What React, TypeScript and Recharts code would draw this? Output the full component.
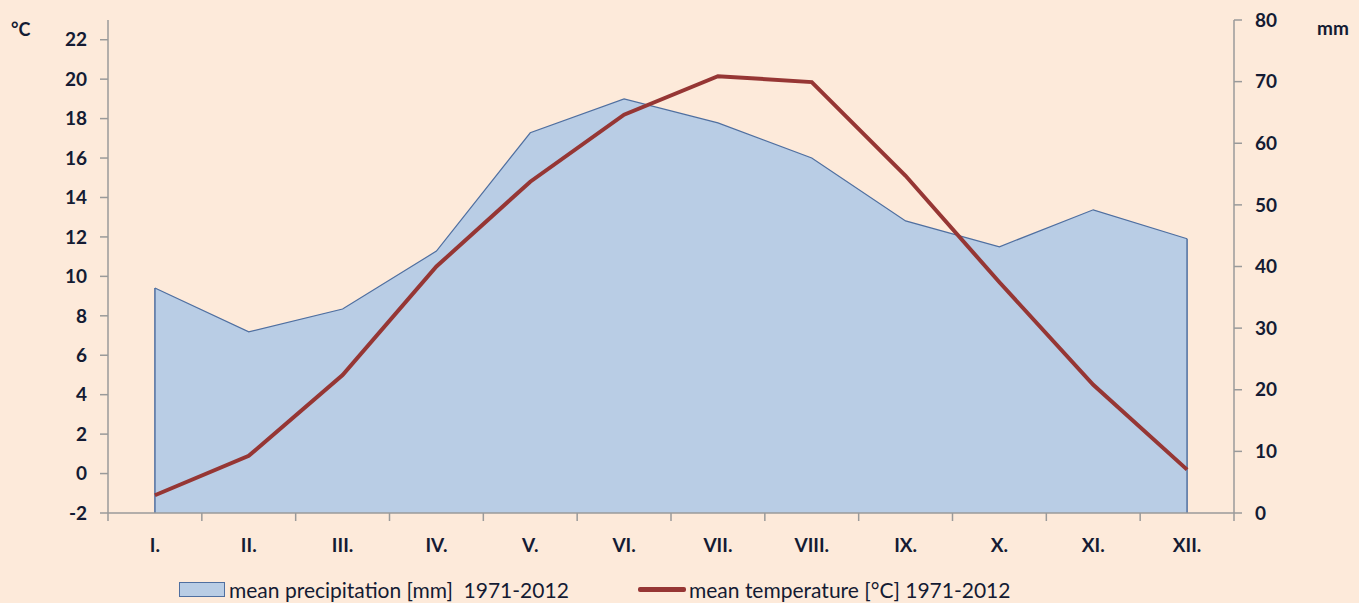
import React from 'react';
import { ComposedChart, Area, Line, XAxis, YAxis, ReferenceLine } from 'recharts';

const months = ['I.', 'II.', 'III.', 'IV.', 'V.', 'VI.', 'VII.', 'VIII.', 'IX.', 'X.', 'XI.', 'XII.'];
const temperature = [-1.1, 0.9, 5.0, 10.5, 14.8, 18.2, 20.15, 19.85, 15.1, 9.7, 4.5, 0.2];
const precipitation = [36.5, 29.4, 33.1, 42.5, 61.7, 67.2, 63.3, 57.6, 47.4, 43.2, 49.2, 44.5];
const tempTicks = [-2, 0, 2, 4, 6, 8, 10, 12, 14, 16, 18, 20, 22];
const precipTicks = [0, 10, 20, 30, 40, 50, 60, 70, 80];

const W = 1359;
const H = 603;
const PLOT_LEFT = 108;
const PLOT_RIGHT = 1234;
const PLOT_BOTTOM = 513;
const BAND = (PLOT_RIGHT - PLOT_LEFT) / months.length;

const BG = '#FDEADA';
const AREA_FILL = '#B9CDE5';
const AREA_STROKE = '#4F6FA0';
const LINE = '#963634';
const AXIS = '#9A9A9A';
const TEXT = '#141B33';
const FONT = 'Lato, "Open Sans", sans-serif';

const data = months.map((m, i) => ({ month: m, temp: temperature[i], precip: precipitation[i] }));

const MonthTick = (props: any) => {
  const { x, payload, index } = props;
  return (
    <g>
      <line x1={x - BAND / 2} x2={x - BAND / 2} y1={PLOT_BOTTOM} y2={PLOT_BOTTOM + 8} stroke={AXIS} strokeWidth={1.5} />
      {index === months.length - 1 && (
        <line x1={x + BAND / 2} x2={x + BAND / 2} y1={PLOT_BOTTOM} y2={PLOT_BOTTOM + 8} stroke={AXIS} strokeWidth={1.5} />
      )}
      <text x={x} y={PLOT_BOTTOM + 39} textAnchor="middle" fill={TEXT} fontSize={19} fontWeight={700} fontFamily={FONT}>
        {payload.value}
      </text>
    </g>
  );
};

export default function App() {
  const tickStyle = { fill: TEXT, fontSize: 19, fontWeight: 700, fontFamily: FONT };
  return (
    <div style={{ position: 'absolute', left: 0, top: 0, width: W, height: H, background: BG, fontFamily: FONT }}>
      <ComposedChart width={W} height={H} data={data} margin={{ top: 20, right: 45, bottom: 40, left: 48 }}>
        <XAxis
          dataKey="month"
          scale="band"
          height={50}
          tick={<MonthTick />}
          tickLine={false}
          axisLine={{ stroke: AXIS, strokeWidth: 1.5 }}
          interval={0}
        />
        <YAxis
          yAxisId="t"
          orientation="left"
          width={60}
          domain={[-2, 23]}
          ticks={tempTicks}
          allowDataOverflow
          tick={tickStyle}
          tickSize={8}
          tickMargin={13}
          tickLine={{ stroke: AXIS, strokeWidth: 1.5 }}
          axisLine={{ stroke: AXIS, strokeWidth: 1.5 }}
        />
        <YAxis
          yAxisId="p"
          orientation="right"
          width={80}
          domain={[0, 80]}
          ticks={precipTicks}
          tick={tickStyle}
          tickSize={8}
          tickMargin={13}
          tickLine={{ stroke: AXIS, strokeWidth: 1.5 }}
          axisLine={{ stroke: AXIS, strokeWidth: 1.5 }}
        />
        <Area
          yAxisId="p"
          type="linear"
          dataKey="precip"
          stroke={AREA_STROKE}
          strokeWidth={1.2}
          fill={AREA_FILL}
          fillOpacity={1}
          isAnimationActive={false}
        />
        <ReferenceLine
          yAxisId="p"
          segment={[{ x: months[0], y: 0 }, { x: months[0], y: precipitation[0] }]}
          stroke={AREA_STROKE}
          strokeWidth={1.5}
        />
        <ReferenceLine
          yAxisId="p"
          segment={[{ x: months[11], y: 0 }, { x: months[11], y: precipitation[11] }]}
          stroke={AREA_STROKE}
          strokeWidth={1.5}
        />
        <Line
          yAxisId="t"
          type="linear"
          dataKey="temp"
          stroke={LINE}
          strokeWidth={4}
          dot={false}
          isAnimationActive={false}
        />
      </ComposedChart>
      <div style={{ position: 'absolute', left: 11, top: 18, fontSize: 18, fontWeight: 700, color: TEXT }}>°C</div>
      <div style={{ position: 'absolute', left: 1317, top: 16, fontSize: 19, fontWeight: 700, color: TEXT }}>mm</div>
      <div style={{ position: 'absolute', left: 179, top: 577, display: 'flex', alignItems: 'center', fontSize: 21, color: TEXT }}>
        <span style={{ display: 'inline-block', width: 44, height: 13, background: AREA_FILL, border: `1.5px solid ${AREA_STROKE}`, marginRight: 4 }} />
        <span>mean precipitation [mm]&nbsp; 1971-2012</span>
      </div>
      <div style={{ position: 'absolute', left: 638, top: 577, display: 'flex', alignItems: 'center', fontSize: 21, color: TEXT }}>
        <span style={{ display: 'inline-block', width: 48, height: 5, background: LINE, borderRadius: 2, marginRight: 3 }} />
        <span>mean temperature [°C] 1971-2012</span>
      </div>
    </div>
  );
}
